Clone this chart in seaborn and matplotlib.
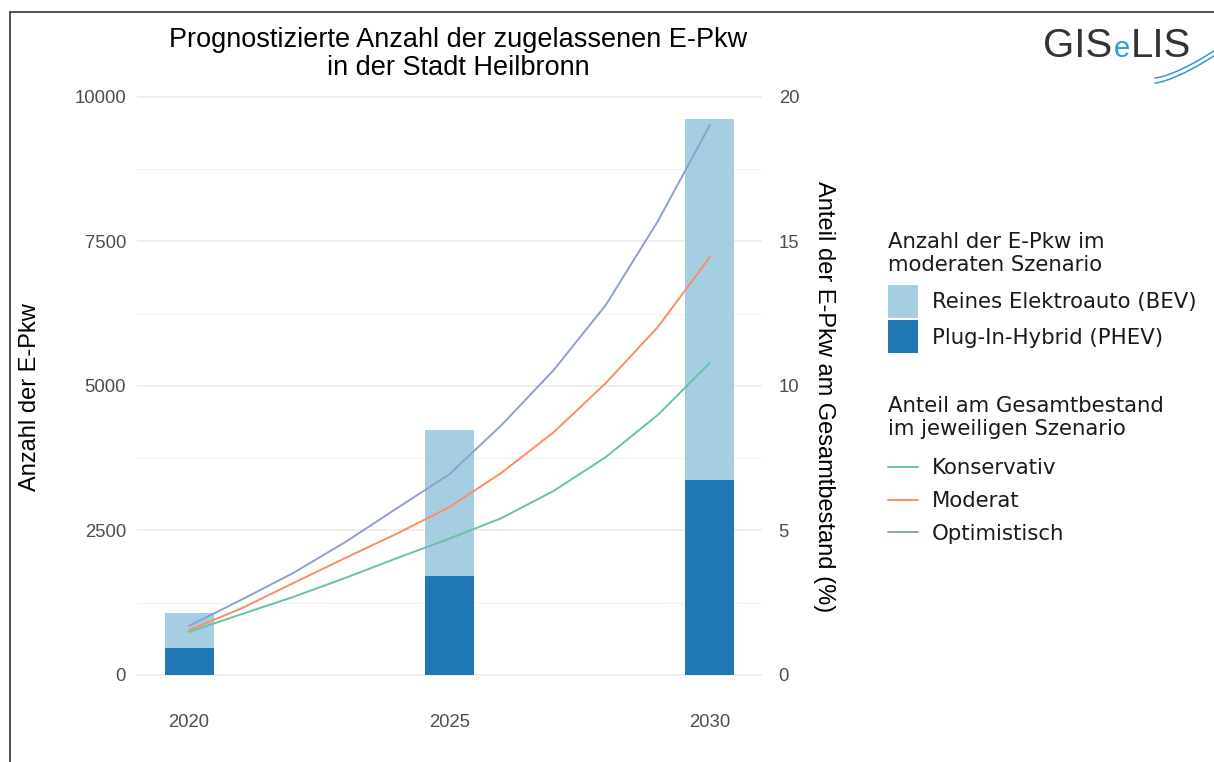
import numpy as np
import pandas as pd
import matplotlib
matplotlib.use("Agg")
import matplotlib.pyplot as plt
import seaborn as sns
from matplotlib.patches import Patch
from matplotlib.lines import Line2D

# ---------------- data ----------------
bar_years = [2020, 2025, 2030]
phev = [467, 1713, 3374]
bev = [606, 2526, 6245]

line_years = [2020, 2021, 2022, 2023, 2024, 2025, 2026, 2027, 2028, 2029, 2030]
konservativ = [1.49, 2.1, 2.7, 3.36, 4.05, 4.72, 5.43, 6.37, 7.54, 9.0, 10.8]
moderat = [1.55, 2.3, 3.18, 4.05, 4.9, 5.81, 7.0, 8.4, 10.1, 12.04, 14.46]
optimistisch = [1.70, 2.6, 3.53, 4.6, 5.78, 6.95, 8.65, 10.55, 12.8, 15.7, 19.03]

left_ticks = [0, 2500, 5000, 7500, 10000]
right_ticks = [0, 5, 10, 15, 20]
x_ticks = [2020, 2025, 2030]

title = "Prognostizierte Anzahl der zugelassenen E-Pkw\nin der Stadt Heilbronn"
ylabel_left = "Anzahl der E-Pkw"
ylabel_right = "Anteil der E-Pkw am Gesamtbestand (%)"
legend1_title = "Anzahl der E-Pkw im\nmoderaten Szenario"
legend1_labels = ["Reines Elektroauto (BEV)", "Plug-In-Hybrid (PHEV)"]
legend2_title = "Anteil am Gesamtbestand\nim jeweiligen Szenario"
legend2_labels = ["Konservativ", "Moderat", "Optimistisch"]

c_bev = "#A6CEE3"
c_phev = "#1F78B4"
c_lines = ["#66C2A5", "#FC8D62", "#8DA0CB"]

# ---------------- figure ----------------
sns.set_theme(style="white")
plt.rcParams["font.family"] = ["Liberation Sans", "DejaVu Sans"]

W, H = 1214, 762
fig = plt.figure(figsize=(W / 100, H / 100), dpi=100)
fig.patch.set_facecolor("white")

px_l, px_r, px_t, px_b = 137, 762, 91.2, 702.8
ax = fig.add_axes([px_l / W, 1 - px_b / H, (px_r - px_l) / W, (px_b - px_t) / H])

ymin, ymax = -481, 10100
xmin, xmax = 2019.0, 2031.0

# grid lines (major + minor, horizontal only)
for v in left_ticks:
    ax.axhline(v, color="#EBEBEB", lw=1.1, zorder=0)
for v in [1250, 3750, 6250, 8750]:
    ax.axhline(v, color="#F2F2F2", lw=0.8, zorder=0)

df_bar = pd.DataFrame({"year": bar_years, "total": np.array(bev) + np.array(phev), "phev": phev})
bw = 0.94 / 5
sns.barplot(data=df_bar, x="year", y="total", native_scale=True, width=bw, color=c_bev,
            saturation=1, ax=ax, zorder=2, linewidth=0)
sns.barplot(data=df_bar, x="year", y="phev", native_scale=True, width=bw, color=c_phev,
            saturation=1, ax=ax, zorder=3, linewidth=0)

ax.set_xlim(xmin, xmax)
ax.set_ylim(ymin, ymax)
ax.set_yticks(left_ticks)
ax.set_yticklabels([str(v) for v in left_ticks])
ax.set_xticks(x_ticks)
ax.set_xticklabels([str(v) for v in x_ticks])
ax.tick_params(axis="both", length=0, labelsize=13.3, labelcolor="#4D4D4D")
ax.tick_params(axis="y", pad=8)
ax.tick_params(axis="x", pad=8)
ax.set_xlabel("")
ax.set_ylabel(ylabel_left, fontsize=17, color="black", labelpad=24)
for s in ax.spines.values():
    s.set_visible(False)

ax2 = ax.twinx()
ax2.set_position(ax.get_position())
df_line = pd.DataFrame({"year": line_years, "Konservativ": konservativ,
                        "Moderat": moderat, "Optimistisch": optimistisch})
for name, col in zip(legend2_labels, c_lines):
    sns.lineplot(data=df_line, x="year", y=name, color=col, lw=1.4, ax=ax2, zorder=4)
ax2.set_ylim(ymin / 500, ymax / 500)
ax2.set_xlim(xmin, xmax)
ax2.set_yticks(right_ticks)
ax2.set_yticklabels([str(v) for v in right_ticks])
ax2.tick_params(axis="y", length=0, labelsize=13.3, labelcolor="#4D4D4D", pad=12)
ax2.set_ylabel(ylabel_right, fontsize=17, color="black", rotation=-90, labelpad=26)
ax2.set_xlabel("")
ax2.grid(False)
for s in ax2.spines.values():
    s.set_visible(False)

ax.set_title(title, fontsize=19.5, color="black", pad=12, linespacing=1.1,
             x=(458 - px_l) / (px_r - px_l))

# ---------------- legends ----------------
lfont = {"family": "DejaVu Sans", "size": 15.3}
fig.text(888 / W, 1 - 232 / H, legend1_title, fontsize=15.3, family="DejaVu Sans",
         color="#1A1A1A", va="top", ha="left", linespacing=1.2)
h1 = [Patch(facecolor=c_bev, edgecolor="none"), Patch(facecolor=c_phev, edgecolor="none")]
leg1 = fig.legend(h1, legend1_labels, loc="upper left",
                  bbox_to_anchor=(888 / W, 1 - 285 / H), frameon=False, prop=lfont,
                  handlelength=1.4, handleheight=2.0, handletextpad=0.65,
                  labelspacing=0.12, borderpad=0, borderaxespad=0)
fig.text(888 / W, 1 - 396 / H, legend2_title, fontsize=15.3, family="DejaVu Sans",
         color="#1A1A1A", va="top", ha="left", linespacing=1.2)
h2 = [Line2D([0], [0], color=c, lw=1.4) for c in c_lines]
leg2 = fig.legend(h2, legend2_labels, loc="upper left",
                  bbox_to_anchor=(888 / W, 1 - 458 / H), frameon=False, prop=lfont,
                  handlelength=1.4, handletextpad=0.65, labelspacing=0.61,
                  borderpad=0, borderaxespad=0)
for lg in (leg1, leg2):
    for t in lg.get_texts():
        t.set_color("#1A1A1A")

# ---------------- logo ----------------
fig.canvas.draw()
rend = fig.canvas.get_renderer()
x0 = 1043
t1 = fig.text(x0 / W, 1 - 57 / H, "GIS", fontsize=29, color="#333333", va="baseline",
              ha="left", family="Liberation Sans")
x1 = t1.get_window_extent(rend).x1
t2 = fig.text(x1 / W + 0.001, 1 - 57 / H, "e", fontsize=21, color="#2A9AD8",
              va="baseline", ha="left", family="Liberation Sans")
x2 = t2.get_window_extent(rend).x1
fig.text(x2 / W + 0.001, 1 - 57 / H, "LIS", fontsize=29, color="#333333",
         va="baseline", ha="left", family="Liberation Sans")
xs = np.linspace(1155, 1214, 30)
for off in (0, 5):
    ys = 78 + off - (xs - 1155) ** 1.4 * 0.09
    fig.add_artist(Line2D(xs / W, 1 - ys / H, color="#2A9AD8", lw=1.1,
                          transform=fig.transFigure))

# ---------------- screenshot frame ----------------
fig.add_artist(Line2D([10 / W, 1], [1 - 12 / H, 1 - 12 / H], color="#333333", lw=1.2,
                      transform=fig.transFigure))
fig.add_artist(Line2D([10 / W, 10 / W], [0, 1 - 12 / H], color="#333333", lw=1.2,
                      transform=fig.transFigure))

fig.savefig("out.png", dpi=100, facecolor="white")
